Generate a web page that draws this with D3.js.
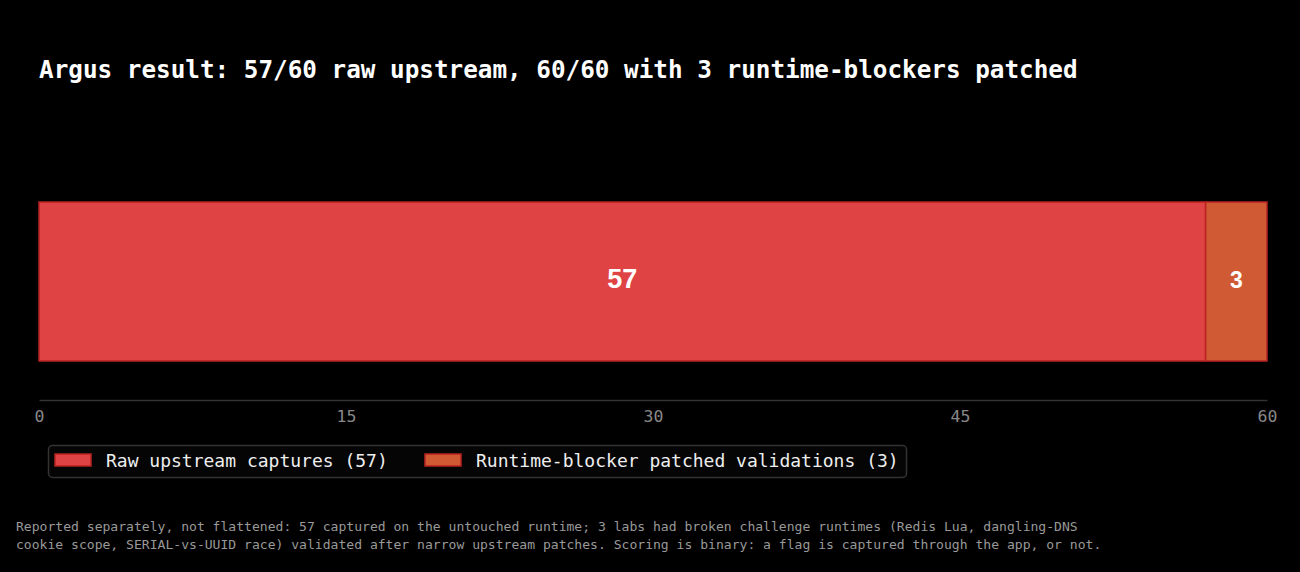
<!DOCTYPE html>
<html>
<head>
<meta charset="utf-8">
<script src="https://cdn.jsdelivr.net/npm/d3@7"></script>
<style>
  body { margin: 0; background: #000; }
  svg { display: block; }
</style>
</head>
<body>
<div id="chart"></div>
<script>
// data
const segments = ["Raw upstream captures", "Runtime-blocker patched validations"];
const values = [57, 3];
const colors = ["#e04343", "#d05a33"];
const xTicks = [0, 15, 30, 45, 60];
const titleText = "Argus result: 57/60 raw upstream, 60/60 with 3 runtime-blockers patched";
const footer = [
  "Reported separately, not flattened: 57 captured on the untouched runtime; 3 labs had broken challenge runtimes (Redis Lua, dangling-DNS",
  "cookie scope, SERIAL-vs-UUID race) validated after narrow upstream patches. Scoring is binary: a flag is captured through the app, or not."
];

const W = 1300, H = 572;
const mono = "'DejaVu Sans Mono', monospace";
const margin = { left: 39, right: 33 };

const svg = d3.select("#chart").append("svg")
  .attr("width", W).attr("height", H);

svg.append("rect").attr("width", W).attr("height", H).attr("fill", "#000");

// title
svg.append("text")
  .attr("x", 39).attr("y", 78)
  .attr("fill", "#fff")
  .style("font-family", mono)
  .style("font-size", "24.3px")
  .style("font-weight", "bold")
  .text(titleText);

// scales
const x = d3.scaleLinear()
  .domain([0, 60])
  .range([margin.left, W - margin.right]);

const barTop = 202, barH = 159;

// stacked segments
let acc = 0;
const stacked = values.map((v, i) => {
  const d = { name: segments[i], value: v, x0: acc, x1: acc + v, color: colors[i] };
  acc += v;
  return d;
});

svg.selectAll(".seg")
  .data(stacked)
  .join("rect")
  .attr("class", "seg")
  .attr("x", d => x(d.x0))
  .attr("y", barTop)
  .attr("width", d => x(d.x1) - x(d.x0))
  .attr("height", barH)
  .attr("fill", d => d.color)
  .attr("stroke", "#b82222")
  .attr("stroke-width", 1.5);

svg.selectAll(".seg-label")
  .data(stacked)
  .join("text")
  .attr("class", "seg-label")
  .attr("x", d => (x(d.x0) + x(d.x1)) / 2)
  .attr("y", barTop + 86)
  .attr("text-anchor", "middle")
  .attr("fill", "#fff")
  .style("font-family", "'Liberation Sans', Arial, sans-serif")
  .style("font-weight", "bold")
  .style("font-size", d => d.value > 10 ? "27px" : "23px")
  .text(d => d.value);

// x axis
const axis = svg.append("g")
  .attr("transform", "translate(0,400)")
  .call(d3.axisBottom(x).tickValues(xTicks).tickSize(0).tickPadding(10));

axis.select(".domain").attr("stroke", "#333").attr("stroke-width", 1.5);
axis.selectAll(".tick text")
  .attr("fill", "#888")
  .style("font-family", mono)
  .style("font-size", "16.5px");

// legend
const legend = svg.append("g");
legend.append("rect")
  .attr("x", 48.5).attr("y", 445.5)
  .attr("width", 858).attr("height", 32)
  .attr("rx", 4)
  .attr("fill", "#050505")
  .attr("stroke", "#333")
  .attr("stroke-width", 1.5);

const legendX = [55, 425];
const item = legend.selectAll(".item")
  .data(stacked)
  .join("g")
  .attr("class", "item")
  .attr("transform", (d, i) => `translate(${legendX[i]},0)`);

item.append("rect")
  .attr("x", 0).attr("y", 454)
  .attr("width", 36).attr("height", 12)
  .attr("fill", d => d.color)
  .attr("stroke", "#b82222")
  .attr("stroke-width", 1.5);

item.append("text")
  .attr("x", 51).attr("y", 467)
  .attr("fill", "#eee")
  .style("font-family", mono)
  .style("font-size", "18px")
  .text(d => `${d.name} (${d.value})`);

// footer note
svg.selectAll(".foot")
  .data(footer)
  .join("text")
  .attr("class", "foot")
  .attr("x", 16)
  .attr("y", (d, i) => 531 + i * 18)
  .attr("fill", "#999")
  .style("font-family", mono)
  .style("font-size", "13.07px")
  .text(d => d);
</script>
</body>
</html>
